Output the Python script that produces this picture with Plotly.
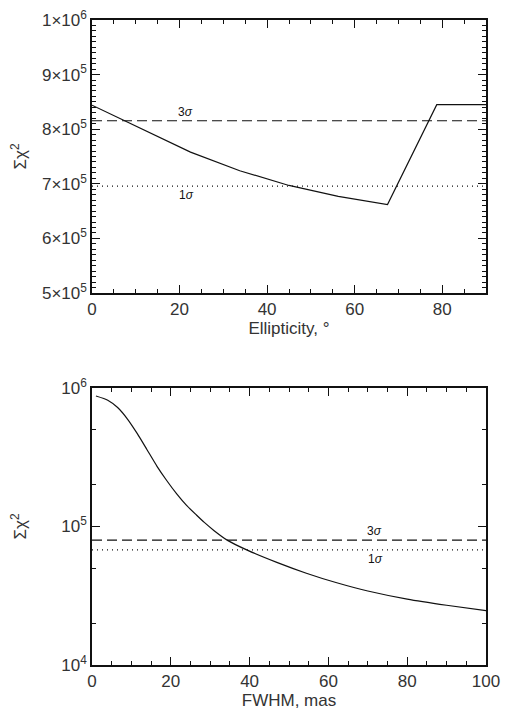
"""Two-panel sum-of-chi-squared scans: ellipticity (linear) and FWHM (log)."""

import math

import plotly.graph_objects as go
from plotly.subplots import make_subplots

# top panel: chi^2 vs ellipticity (degrees)
ELL_X = [0, 11.25, 22.5, 33.75, 45, 56.25, 67.5, 78.75, 90]
ELL_CHI2 = [844000, 801000, 758000, 724000, 697000, 677000, 662000, 845000, 845000]
ELL_3SIG = 815500
ELL_1SIG = 695700

# bottom panel: chi^2 vs FWHM (mas)
FWHM_X = [1, 4, 6.5, 9, 11.5, 14, 16.5, 19, 21.5, 24, 26.5, 28.5, 31, 34.4,
          39.4, 46.9, 54.4, 61.9, 70, 80, 90, 100]
FWHM_CHI2 = [875000, 817000, 723000, 597000, 468000, 357000, 272000, 214000,
             172000, 142000, 121000, 107000, 93300, 79400,
             67500, 55100, 46000, 39400, 34200, 29900, 27000, 24700]
FWHM_3SIG = 79600
FWHM_1SIG = 67700

TOP_YTICKS = [5e5, 6e5, 7e5, 8e5, 9e5, 1e6]
TOP_YLABELS = ["5×10<sup>5</sup>", "6×10<sup>5</sup>", "7×10<sup>5</sup>",
               "8×10<sup>5</sup>", "9×10<sup>5</sup>", "1×10<sup>6</sup>"]
BOT_YTICKS = [1e4, 1e5, 1e6]
BOT_YLABELS = ["10<sup>4</sup>", "10<sup>5</sup>", "10<sup>6</sup>"]

FONT = "Liberation Sans, Arial, sans-serif"
INK = "#111"

fig = make_subplots(rows=2, cols=1)

fig.add_trace(go.Scatter(x=ELL_X, y=ELL_CHI2, mode="lines",
                         line=dict(color=INK, width=1.2)), row=1, col=1)
fig.add_trace(go.Scatter(x=[0, 90], y=[ELL_3SIG, ELL_3SIG], mode="lines",
                         line=dict(color=INK, width=1.2, dash="10px,5px")), row=1, col=1)
fig.add_trace(go.Scatter(x=[0, 90], y=[ELL_1SIG, ELL_1SIG], mode="lines",
                         line=dict(color=INK, width=1.2, dash="1px,4px")), row=1, col=1)

fig.add_trace(go.Scatter(x=FWHM_X, y=FWHM_CHI2, mode="lines",
                         line=dict(color=INK, width=1.2, shape="spline", smoothing=0.6)),
              row=2, col=1)
fig.add_trace(go.Scatter(x=[0, 100], y=[FWHM_3SIG, FWHM_3SIG], mode="lines",
                         line=dict(color=INK, width=1.2, dash="10px,5px")), row=2, col=1)
fig.add_trace(go.Scatter(x=[0, 100], y=[FWHM_1SIG, FWHM_1SIG], mode="lines",
                         line=dict(color=INK, width=1.2, dash="1px,4px")), row=2, col=1)

_AXIS = dict(
    showline=True, linecolor=INK, linewidth=1.5, mirror="allticks",
    ticks="inside", ticklen=8, tickwidth=1, tickcolor=INK,
    showgrid=False, zeroline=False, automargin=False, ticklabeloverflow="allow",
    tickfont=dict(family=FONT, size=17, color="#333"),
    title_font=dict(family=FONT, size=17, color="#333"),
)
_MINOR = dict(ticks="inside", ticklen=4, tickwidth=1, tickcolor=INK, showgrid=False)

fig.update_xaxes(**_AXIS)
fig.update_yaxes(**_AXIS)

# the page body adds an 8px margin, so the figure is 493x705 to avoid overflow
fig.update_xaxes(range=[0, 90], dtick=20, tick0=0, domain=[0.1704, 0.9696],
                 minor=dict(**_MINOR, dtick=5), title_text="Ellipticity, °",
                 title_standoff=0, row=1, col=1)
fig.update_yaxes(range=[5e5, 1e6], tickvals=TOP_YTICKS, ticktext=TOP_YLABELS,
                 domain=[0.5957, 0.9830], minor=dict(**_MINOR, dtick=1e4),
                 title_text="Σχ<sup>2</sup>", title_standoff=29, row=1, col=1)

fig.update_xaxes(range=[0, 100], dtick=20, tick0=0, domain=[0.1704, 0.9696],
                 minor=dict(**_MINOR, dtick=5), title_text="FWHM, mas",
                 title_standoff=0, row=2, col=1)
fig.update_yaxes(type="log", range=[4, 6], tickvals=BOT_YTICKS, ticktext=BOT_YLABELS,
                 domain=[0.0681, 0.4610], minor=dict(**_MINOR, dtick="D2"),
                 title_text="Σχ<sup>2</sup>", title_standoff=46, row=2, col=1)

_LBL = dict(showarrow=False, font=dict(family=FONT, size=12, color=INK))
fig.add_annotation(x=21.3, y=ELL_3SIG, text="3<i>σ</i>", yshift=9, xref="x", yref="y", **_LBL)
fig.add_annotation(x=21.5, y=ELL_1SIG, text="1<i>σ</i>", yshift=-9, xref="x", yref="y", **_LBL)
fig.add_annotation(x=71.7, y=math.log10(FWHM_3SIG), text="3<i>σ</i>", yshift=9,
                   xref="x2", yref="y2", **_LBL)
fig.add_annotation(x=71.9, y=math.log10(FWHM_1SIG), text="1<i>σ</i>", yshift=-9,
                   xref="x2", yref="y2", **_LBL)

fig.update_layout(
    width=493, height=705, showlegend=False,
    paper_bgcolor="white", plot_bgcolor="white",
    margin=dict(l=0, r=0, t=0, b=0),
    font=dict(family=FONT, color=INK),
)

fig.write_html("out.html")
